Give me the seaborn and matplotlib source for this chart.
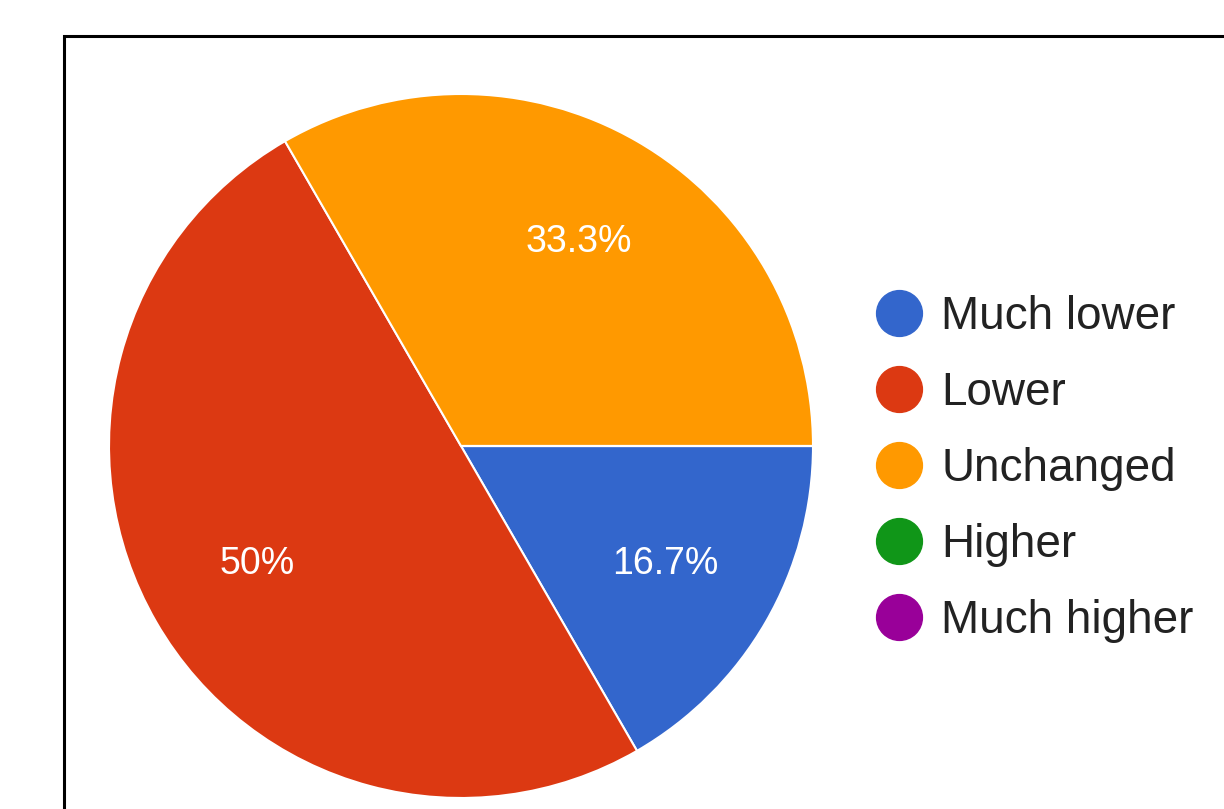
import matplotlib.pyplot as plt
import seaborn as sns
from matplotlib.lines import Line2D
from matplotlib.patches import Rectangle

# survey answers (6 responses)
categories = ['Much lower', 'Lower', 'Unchanged', 'Higher', 'Much higher']
counts = [1, 3, 2, 0, 0]
colors = ['#3366cc', '#dc3912', '#ff9900', '#109618', '#990099']

sns.set_theme(style='white')
plt.rcParams['font.family'] = ['Liberation Sans', 'DejaVu Sans']

fig = plt.figure(figsize=(12.24, 8.09), dpi=100)
fig.patch.set_facecolor('white')

# black frame, runs past right and bottom edges
fig.patches.append(Rectangle((64 / 1224, -0.2), 2.0, 773 / 809 + 0.2,
                             transform=fig.transFigure, fill=False,
                             edgecolor='black', linewidth=2.2, clip_on=False))

ax = fig.add_axes([109 / 1224, 11 / 809, 704 / 1224, 704 / 809])


def fmt(p):
    if p < 0.05:
        return ''
    s = f'{p:.1f}'
    if s.endswith('.0'):
        s = s[:-2]
    return s + '%'


wedges, texts, autotexts = ax.pie(counts, colors=colors, startangle=0,
                                  counterclock=False, autopct=fmt,
                                  pctdistance=0.67, radius=1,
                                  wedgeprops=dict(edgecolor='white', linewidth=1.5),
                                  textprops=dict(color='white', fontsize=27))
ax.set_xlim(-1, 1)
ax.set_ylim(-1, 1)
ax.axis('off')

handles = [Line2D([], [], marker='o', linestyle='', markersize=33,
                  markerfacecolor=c, markeredgecolor=c) for c in colors]
fig.legend(handles, categories, loc='center left',
           bbox_to_anchor=(875 / 1224, (809 - 469) / 809),
           frameon=False, fontsize=33, labelcolor='#222222',
           handlelength=1.03, handletextpad=0.42, labelspacing=0.7,
           borderpad=0, borderaxespad=0)

fig.savefig('out.png', dpi=100, facecolor='white')
